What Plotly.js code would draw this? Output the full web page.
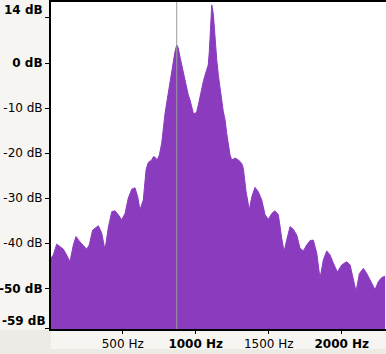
<!DOCTYPE html>
<html>
<head>
<meta charset="utf-8">
<script src="https://cdn.plot.ly/plotly-3.0.1.min.js"></script>
<style>html,body{margin:0;padding:0;background:#ecebe6;}#chart{width:386px;height:354px;}</style>
</head>
<body>
<div id="chart"></div>
<script>
// Spectrum values
const freqHz = [9,25,48,70,93,116,139,162,180,207,230,253,271,294,333,356,379,401,425,447,470,493,516,538,562,584,603,618,641,660,675,699,710,721,737,751,767,778,790,801,812,824,836,847,858,870,881,892,904,915,927,938,949,961,973,984,995,1007,1018,1029,1041,1052,1064,1075,1086,1093,1100,1110,1121,1132,1144,1155,1166,1178,1189,1201,1212,1223,1235,1247,1269,1292,1315,1326,1345,1367,1384,1406,1429,1452,1475,1497,1521,1543,1566,1589,1605,1623,1646,1668,1692,1714,1737,1760,1783,1805,1829,1851,1874,1897,1920,1942,1970,2000,2034,2057,2079,2098,2121,2148,2171,2205,2228,2251,2274,2297];
const levelDb = [-43.3,-42.6,-40.2,-40.8,-41.3,-42.6,-44.1,-40.4,-38.5,-39.7,-40.6,-41.3,-40.4,-37.1,-36.1,-37.7,-41.5,-36.6,-33.0,-32.8,-33.7,-34.8,-33.4,-30.0,-28.0,-27.7,-29.7,-32.6,-30.4,-23.7,-22.1,-21.5,-20.8,-20.9,-21.5,-20.4,-17.8,-13.8,-11.2,-8.9,-6.7,-4.1,-2.7,0.3,2.5,4.0,3.3,1.4,-0.4,-1.6,-3.8,-5.6,-7.1,-8.2,-10.1,-11.2,-11.2,-10.8,-9.3,-7.5,-5.6,-4.1,-2.7,-1.6,-0.4,2.5,7.3,12.9,10.7,5.1,0.7,-2.7,-6.0,-8.2,-10.8,-12.6,-15.6,-17.8,-20.4,-21.5,-21.1,-21.5,-22.3,-23.4,-28.6,-32.6,-29.7,-27.6,-28.6,-30.4,-33.7,-34.7,-33.4,-32.8,-33.7,-38.9,-41.9,-39.3,-36.3,-36.9,-38.2,-41.1,-41.7,-40.4,-39.4,-39.3,-42.2,-47.8,-43.7,-41.7,-42.6,-44.4,-46.4,-44.8,-44.1,-44.8,-47.8,-50.7,-46.7,-45.6,-46.7,-48.9,-50.3,-48.5,-47.6,-47.3];

const xTickVals = [500,1000,1500,2000];
const xTickText = ['500 Hz','<b>1000 Hz</b>','1500 Hz','<b>2000 Hz</b>'];
const yTickVals = [10,0,-10,-20,-30,-40,-50,-59];
const yTickText = ['','<b>0 dB</b>','-10 dB','-20 dB','-30 dB','-40 dB','<b>-50 dB</b>',''];
const cursorHz = 870;
const topLabel = '<b>14 dB</b>';
const bottomLabel = '<b>-59 dB</b>';

const X_RANGE = [9, 2303];
const Y_RANGE = [-59.03, 13.54];
const floorDb = freqHz.map(() => Y_RANGE[0] - 20);

const purple = '#8a3bbe';
const font = {family: 'DejaVu Sans', size: 12, color: '#000'};

const traces = [
  {x: freqHz, y: floorDb, mode: 'lines', line: {width: 0, color: purple}, hoverinfo: 'skip', showlegend: false},
  {x: freqHz, y: levelDb, mode: 'lines', fill: 'tonexty', fillcolor: purple,
   line: {width: 1, color: purple}, showlegend: false}
];

const layout = {
  width: 386, height: 354,
  margin: {l: 51, r: 0, t: 2, b: 25, pad: 0},
  paper_bgcolor: '#ecebe6',
  plot_bgcolor: '#ffffff',
  font: font,
  showlegend: false,
  xaxis: {
    range: X_RANGE, showgrid: false, zeroline: false,
    showline: true, mirror: true, linecolor: '#000', linewidth: 2,
    ticks: 'outside', ticklen: 3, tickcolor: '#000', tickwidth: 1,
    tickvals: xTickVals, ticktext: xTickText, tickfont: font
  },
  yaxis: {
    range: Y_RANGE, showgrid: false, zeroline: false,
    showline: true, linecolor: '#000', linewidth: 2,
    ticks: 'outside', ticklen: 4, tickcolor: '#000', tickwidth: 1,
    tickvals: yTickVals, ticktext: yTickText, tickfont: font
  },
  shapes: [
    {type: 'rect', xref: 'paper', yref: 'paper', x0: -51/335, x1: -2/335, y0: -1/327, y1: 1.01,
     fillcolor: '#f6f5f1', line: {width: 0}, layer: 'below'},
    {type: 'rect', xref: 'paper', yref: 'paper', x0: 0, x1: 1, y0: -20/327, y1: -1/327,
     fillcolor: '#f6f5f1', line: {width: 0}, layer: 'below'},
    {type: 'line', xref: 'x', yref: 'paper', x0: cursorHz, x1: cursorHz, y0: 0, y1: 1,
     line: {color: '#9a9a9a', width: 1}}
  ],
  annotations: [
    {text: topLabel, xref: 'paper', yref: 'y', x: 0, y: 11.8, xanchor: 'right', yanchor: 'middle',
     xshift: -7, borderpad: 0, showarrow: false, font: font},
    {text: bottomLabel, xref: 'paper', yref: 'y', x: -50/335, y: -57.3, xanchor: 'left', yanchor: 'middle',
     borderpad: 0, showarrow: false, font: font}
  ]
};

Plotly.newPlot('chart', traces, layout, {displayModeBar: false, staticPlot: true});
</script>
</body>
</html>
